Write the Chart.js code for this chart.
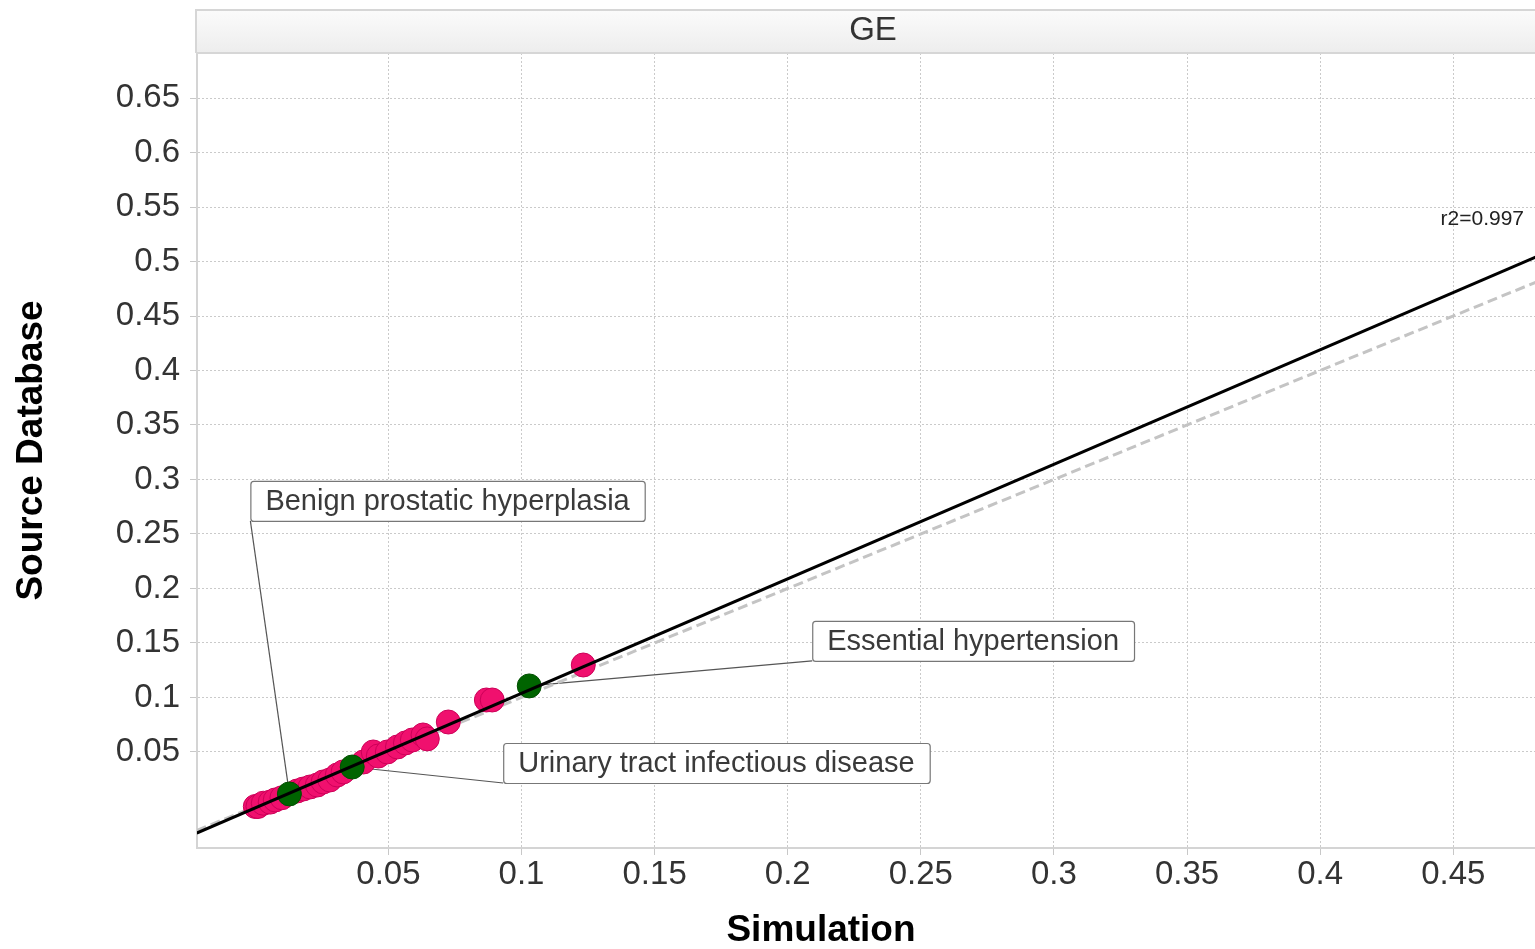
<!DOCTYPE html>
<html lang="en">
<head>
<meta charset="UTF-8">
<title>GE - Simulation vs Source Database</title>
<script src="https://cdn.jsdelivr.net/npm/chart.js"></script>
<style>
  body { margin: 0; background: #fff; }
  #wrap { width: 1535px; height: 949px; }
</style>
</head>
<body>
<div id="wrap"><canvas id="myChart" width="1535" height="949"></canvas></div>
<script>
    // prevalence per disease: simulation (x) vs source database (y)
    var simValues = [0.000, 0.001, 0.003, 0.0056, 0.0075, 0.010, 0.0157, 0.018, 0.0206, 0.0233, 0.0255, 0.028, 0.0308, 0.033,
                     0.0406, 0.0443, 0.0462, 0.0496, 0.0534, 0.0564, 0.059, 0.063, 0.0646, 0.0725, 0.0868, 0.089, 0.1232];
    var srcValues = [0.000, 0.000, 0.003, 0.004, 0.006, 0.008, 0.0142, 0.016, 0.0179, 0.0197, 0.0225, 0.0243, 0.0289, 0.0317,
                     0.0408, 0.050, 0.0463, 0.050, 0.0546, 0.0583, 0.061, 0.0656, 0.062, 0.0775, 0.0977, 0.0977, 0.1298];

    // highlighted diseases (green)
    var highlightNames = ['Benign prostatic hyperplasia', 'Urinary tract infectious disease', 'Essential hypertension'];
    var highlightSim = [0.0128, 0.0364, 0.1029];
    var highlightSrc = [0.0115, 0.0362, 0.1106];

    // regression line and y = x reference, end points
    var fitX = [-0.022, 0.481];
    var fitY = [-0.0244, 0.504];
    var identityX = [-0.022, 0.481];
    var identityY = [-0.022, 0.481];

    var xTicks = [0.05, 0.1, 0.15, 0.2, 0.25, 0.3, 0.35, 0.4, 0.45];
    var yTicks = [0.05, 0.1, 0.15, 0.2, 0.25, 0.3, 0.35, 0.4, 0.45, 0.5, 0.55, 0.6, 0.65];
    var panelTitle = 'GE';
    var r2Text = 'r2=0.997';

    var fontFam = "'Liberation Sans', Arial, sans-serif";

    function pts(xs, ys) {
        var out = [];
        for (var i = 0; i < xs.length; i++) {
            out.push({ x: xs[i], y: ys[i] });
        }
        return out;
    }

    // label boxes, offset from the point they describe (px)
    var labelLayout = [
        { dx: -39, dy: -313 },
        { dx: 151, dy: -24 },
        { dx: 283, dy: -65 }
    ];

    var decorPlugin = {
        id: 'decor',
        beforeDatasetsDraw: function (chart) {
            var ctx = chart.ctx;
            var xs = chart.scales.x, ys = chart.scales.y;
            ctx.save();
            ctx.strokeStyle = '#555';
            ctx.lineWidth = 1.2;
            for (var i = 0; i < highlightNames.length; i++) {
                var px = xs.getPixelForValue(highlightSim[i]);
                var py = ys.getPixelForValue(highlightSrc[i]);
                var bx = px + labelLayout[i].dx;
                var by = py + labelLayout[i].dy + 40;
                ctx.beginPath();
                ctx.moveTo(bx, by);
                ctx.lineTo(px, py);
                ctx.stroke();
            }
            ctx.restore();
        },
        afterDatasetsDraw: function (chart) {
            var ctx = chart.ctx;
            var xs = chart.scales.x, ys = chart.scales.y;
            var area = chart.chartArea;
            ctx.save();

            // label boxes
            ctx.font = '29px ' + fontFam;
            ctx.textBaseline = 'middle';
            ctx.textAlign = 'left';
            for (var i = 0; i < highlightNames.length; i++) {
                var px = xs.getPixelForValue(highlightSim[i]);
                var py = ys.getPixelForValue(highlightSrc[i]);
                var bx = px + labelLayout[i].dx;
                var by = py + labelLayout[i].dy;
                var w = ctx.measureText(highlightNames[i]).width + 30;
                ctx.beginPath();
                ctx.roundRect(bx + 0.5, by + 0.5, w, 40, 3);
                ctx.fillStyle = '#fff';
                ctx.fill();
                ctx.strokeStyle = '#777';
                ctx.lineWidth = 1.2;
                ctx.stroke();
                ctx.fillStyle = '#3a3a3a';
                ctx.fillText(highlightNames[i], bx + 15, by + 21);
            }

            // r2 text
            ctx.font = '21px ' + fontFam;
            ctx.textAlign = 'right';
            ctx.fillStyle = '#222';
            ctx.fillText(r2Text, area.right - 11, area.top + 166);

            // header band
            var g = ctx.createLinearGradient(0, 10, 0, area.top);
            g.addColorStop(0, '#fbfbfb');
            g.addColorStop(1, '#ededed');
            ctx.fillStyle = g;
            ctx.fillRect(area.left - 1, 10, chart.width, area.top - 10);
            ctx.strokeStyle = '#d6d6d6';
            ctx.lineWidth = 2;
            ctx.beginPath();
            ctx.moveTo(area.left - 1, area.top);
            ctx.lineTo(area.left - 1, 10);
            ctx.lineTo(chart.width, 10);
            ctx.moveTo(area.left - 1, area.top);
            ctx.lineTo(chart.width, area.top);
            ctx.stroke();
            ctx.font = '33px ' + fontFam;
            ctx.textAlign = 'center';
            ctx.fillStyle = '#333';
            ctx.fillText(panelTitle, 873, 31);

            // x axis title
            ctx.font = 'bold 37px ' + fontFam;
            ctx.fillStyle = '#000';
            ctx.fillText('Simulation', 821, 931);
            ctx.restore();
        }
    };

    var dados = {
        datasets: [
            {
                label: 'fit',
                data: pts(fitX, fitY),
                showLine: true,
                borderColor: '#000',
                borderWidth: 3,
                pointRadius: 0,
                order: 0
            },
            {
                label: 'highlighted',
                data: pts(highlightSim, highlightSrc),
                backgroundColor: '#006400',
                borderColor: '#004f00',
                borderWidth: 1,
                pointRadius: 12,
                order: 1
            },
            {
                label: 'diseases',
                data: pts(simValues, srcValues),
                backgroundColor: '#f0106e',
                borderColor: '#cc0058',
                borderWidth: 1,
                pointRadius: 12,
                order: 2
            },
            {
                label: 'y = x',
                data: pts(identityX, identityY),
                showLine: true,
                borderColor: '#c4c4c4',
                borderWidth: 3,
                borderDash: [10, 5],
                pointRadius: 0,
                order: 3
            }
        ]
    };

    const config = {
        type: 'scatter',
        data: dados,
        options: {
            responsive: false,
            animation: false,
            layout: { autoPadding: false, padding: { top: 53, left: 0, right: 0, bottom: 0 } },
            plugins: {
                legend: { display: false },
                tooltip: { enabled: false }
            },
            scales: {
                x: {
                    type: 'linear',
                    min: -0.0219,
                    max: 0.4807,
                    afterBuildTicks: function (s) { s.ticks = xTicks.map(function (v) { return { value: v }; }); },
                    afterFit: function (s) { s.height = 101; s.paddingLeft = 0; s.paddingRight = 0; },
                    ticks: {
                        color: '#333',
                        font: { family: fontFam, size: 33 },
                        padding: 0,
                        maxRotation: 0,
                        callback: function (v) { return String(v); }
                    },
                    grid: {
                        color: '#cacaca',
                        tickColor: '#c8c8c8',
                        tickLength: 7,
                        tickBorderDash: []
                    },
                    border: { display: true, color: '#d4d4d4', width: 2, dash: [2, 2] },
                    title: { display: false }
                },
                y: {
                    type: 'linear',
                    min: -0.0381,
                    max: 0.6913,
                    afterBuildTicks: function (s) { s.ticks = yTicks.map(function (v) { return { value: v }; }); },
                    afterFit: function (s) { s.width = 197; s.paddingTop = 0; s.paddingBottom = 0; },
                    ticks: {
                        color: '#333',
                        font: { family: fontFam, size: 33 },
                        padding: 10,
                        callback: function (v) { return String(v); }
                    },
                    grid: {
                        color: '#cacaca',
                        tickColor: '#c8c8c8',
                        tickLength: 7,
                        tickBorderDash: []
                    },
                    border: { display: true, color: '#d4d4d4', width: 2, dash: [2, 2] },
                    title: {
                        display: true,
                        text: 'Source Database',
                        color: '#000',
                        font: { family: fontFam, size: 37, weight: 'bold', lineHeight: 1 },
                        padding: { top: 13, bottom: 0 }
                    }
                }
            }
        },
        plugins: [decorPlugin]
    };

    let myChart = new Chart(document.getElementById('myChart'), config);
</script>
</body>
</html>
